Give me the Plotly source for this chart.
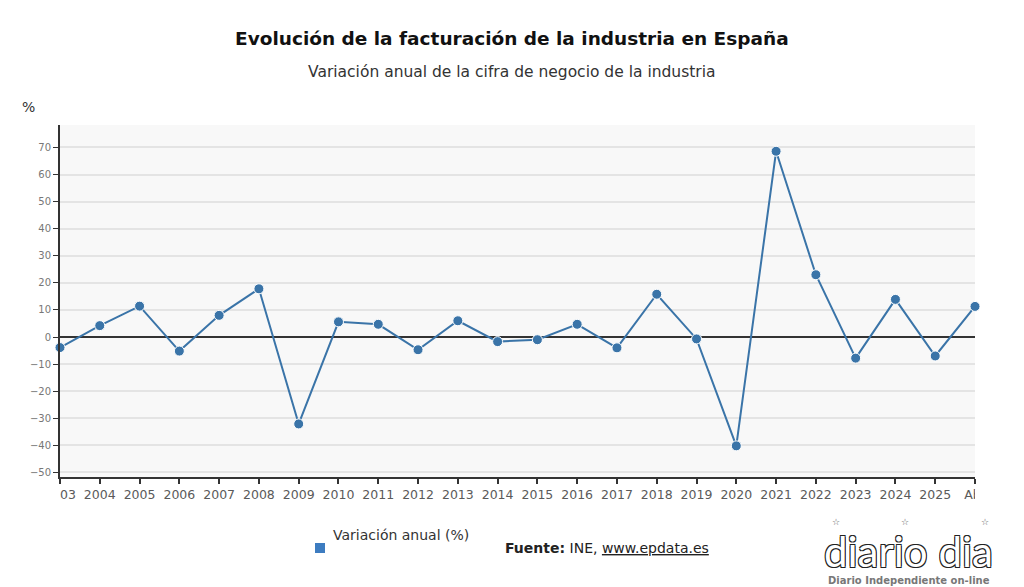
import plotly.graph_objects as go

categories = ["2003", "2004", "2005", "2006", "2007", "2008", "2009", "2010", "2011", "2012",
              "2013", "2014", "2015", "2016", "2017", "2018", "2019", "2020", "2021", "2022",
              "2023", "2024", "2025", "Abr"]
variacion = [-3.9, 4.2, 11.4, -5.2, 8.0, 17.8, -32.1, 5.6, 4.7, -4.7,
             6.0, -1.7, -1.0, 4.7, -4.0, 15.8, -0.7, -40.2, 68.6, 23.0,
             -7.8, 13.9, -7.0, 11.3]
y_ticks = [-50, -40, -30, -20, -10, 0, 10, 20, 30, 40, 50, 60, 70]

FONT = "DejaVu Sans"
LINE = "#3a74a8"


def px(x):
    return (x - 60) / 915


def py(y):
    return (477 - y) / 352


fig = go.Figure()
fig.add_trace(go.Scatter(
    x=list(range(len(categories))), y=variacion, mode="lines+markers",
    name="Variación anual (%)",
    line=dict(color=LINE, width=2),
    marker=dict(color=LINE, size=10, line=dict(color="white", width=1)),
    cliponaxis=False, showlegend=False,
))

star_font = dict(size=9, color="#555", family=FONT)

fig.update_layout(
    width=1024, height=587,
    margin=dict(l=60, r=49, t=125, b=110),
    paper_bgcolor="white", plot_bgcolor="#f8f8f8",
    font=dict(family=FONT, color="#666"),
    xaxis=dict(
        range=[0, len(categories) - 1],
        tickmode="array", tickvals=list(range(len(categories))), ticktext=categories,
        showgrid=False, zeroline=False,
        showline=True, linecolor="#333", linewidth=2,
        ticks="outside", ticklen=5, tickcolor="#333", tickwidth=2,
        tickfont=dict(size=12.5, color="#5a5a5a", family=FONT),
    ),
    yaxis=dict(
        range=[-51.7, 78.3],
        tickmode="array", tickvals=y_ticks,
        showgrid=True, gridcolor="#e4e4e4", gridwidth=1.5,
        zeroline=True, zerolinecolor="#333", zerolinewidth=2,
        showline=True, linecolor="#333", linewidth=2,
        ticks="outside", ticklen=5, tickcolor="#333", tickwidth=1,
        tickfont=dict(size=10, color="#777", family=FONT),
    ),
    shapes=[
        # clip tick labels at plot edges like the original
        dict(type="rect", xref="paper", yref="paper", x0=-0.07, x1=0.0, y0=-0.12, y1=-0.035,
             fillcolor="white", line=dict(width=0), layer="above"),
        dict(type="rect", xref="paper", yref="paper", x0=1.0, x1=1.06, y0=-0.12, y1=-0.035,
             fillcolor="white", line=dict(width=0), layer="above"),
        # legend symbol
        dict(type="rect", xref="paper", yref="paper",
             x0=px(315), x1=px(325), y0=py(553), y1=py(543),
             fillcolor="#3d7cc0", line=dict(width=0)),
    ],
    annotations=[
        dict(text="<b>Evolución de la facturación de la industria en España</b>",
             xref="paper", yref="paper", x=px(512), y=py(38),
             xanchor="center", yanchor="middle", showarrow=False,
             font=dict(size=18.5, color="#111", family=FONT)),
        dict(text="Variación anual de la cifra de negocio de la industria",
             xref="paper", yref="paper", x=px(512), y=py(72),
             xanchor="center", yanchor="middle", showarrow=False,
             font=dict(size=15.5, color="#333", family=FONT)),
        dict(text="%", xref="paper", yref="paper", x=px(28), y=py(107),
             xanchor="center", yanchor="middle", showarrow=False,
             font=dict(size=14, color="#333", family=FONT)),
        dict(text="Variación anual (%)", xref="paper", yref="paper",
             x=px(331), y=py(535),
             xanchor="left", yanchor="middle", showarrow=False,
             font=dict(size=14, color="#333", family=FONT)),
        dict(text="<b>Fuente:</b> INE, <u>www.epdata.es</u>", xref="paper", yref="paper",
             x=px(503), y=py(548),
             xanchor="left", yanchor="middle", showarrow=False,
             font=dict(size=14, color="#222", family=FONT)),
        dict(text="diario dia", xref="paper", yref="paper",
             x=px(908), y=py(551),
             xanchor="center", yanchor="middle", showarrow=False,
             font=dict(size=42, color="white", family="Lato",
                       shadow="1px 1px 0 #222, -1px -1px 0 #222, 1px -1px 0 #222, -1px 1px 0 #222")),
        dict(text="☆", xref="paper", yref="paper", x=px(836), y=py(522),
             xanchor="center", yanchor="middle", showarrow=False, font=star_font),
        dict(text="☆", xref="paper", yref="paper", x=px(905), y=py(522),
             xanchor="center", yanchor="middle", showarrow=False, font=star_font),
        dict(text="☆", xref="paper", yref="paper", x=px(985), y=py(522),
             xanchor="center", yanchor="middle", showarrow=False, font=star_font),
        dict(text="<b>Diario Independiente on-line</b>", xref="paper", yref="paper",
             x=px(909), y=py(580),
             xanchor="center", yanchor="middle", showarrow=False,
             font=dict(size=10, color="#777", family=FONT)),
    ],
)

fig.write_html("out.html")
